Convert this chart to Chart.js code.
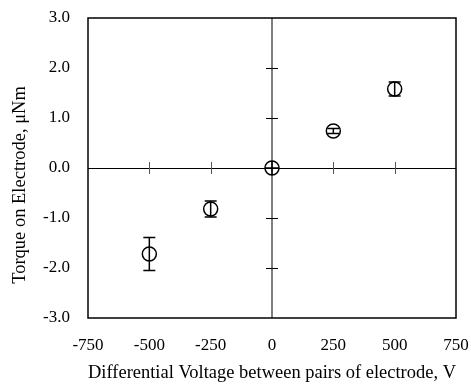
<!DOCTYPE html>
<html>
<head>
<meta charset="utf-8">
<script src="https://cdn.jsdelivr.net/npm/chart.js@4"></script>
<style>
    html, body { margin: 0; padding: 0; background: #fff; }
    #wrap { width: 471px; height: 390px; }
</style>
</head>
<body>
<div id="wrap"><canvas id="torqueChart"></canvas></div>
<script>
// Data
const voltages = [-500, -250, 0, 250, 500];
const torques = [-1.72, -0.82, 0.0, 0.74, 1.58];
const torqueErrors = [0.33, 0.16, 0.0, 0.05, 0.14];
const xTicks = [-750, -500, -250, 0, 250, 500, 750];
const yTicks = [-3, -2, -1, 0, 1, 2, 3];
const yTitle = 'Torque on Electrode, \u03BCNm';

const FONT = 'Liberation Serif, Times New Roman, serif';

// frame + zero axes with small crossing ticks
const zeroAxesPlugin = {
    id: 'zeroAxes',
    beforeDatasetsDraw(chart) {
        const ctx = chart.ctx;
        const area = chart.chartArea;
        const x = chart.scales.x;
        const y = chart.scales.y;
        const x0 = x.getPixelForValue(0);
        const y0 = y.getPixelForValue(0);
        ctx.save();

        // vertical zero line (grey)
        ctx.strokeStyle = '#808080';
        ctx.lineWidth = 2;
        ctx.beginPath();
        ctx.moveTo(x0, area.top);
        ctx.lineTo(x0, area.bottom);
        ctx.stroke();

        // ticks on the vertical line
        ctx.strokeStyle = '#000';
        ctx.lineWidth = 1;
        yTicks.forEach(v => {
            if (v === 0 || Math.abs(v) === 3) return;
            const py = Math.round(y.getPixelForValue(v)) + 0.5;
            ctx.beginPath();
            ctx.moveTo(x0 - 6, py);
            ctx.lineTo(x0 + 6, py);
            ctx.stroke();
        });

        // horizontal zero line (black)
        ctx.strokeStyle = '#000';
        ctx.lineWidth = 1;
        ctx.beginPath();
        ctx.moveTo(area.left, Math.round(y0) + 0.5);
        ctx.lineTo(area.right, Math.round(y0) + 0.5);
        ctx.stroke();

        // ticks on the horizontal line
        ctx.strokeStyle = '#555';
        xTicks.forEach(v => {
            if (v === 0 || Math.abs(v) === 750) return;
            const px = Math.round(x.getPixelForValue(v)) + 0.5;
            ctx.beginPath();
            ctx.moveTo(px, y0 - 6);
            ctx.lineTo(px, y0 + 6);
            ctx.stroke();
        });

        // frame
        ctx.strokeStyle = '#000';
        ctx.lineWidth = 1.5;
        ctx.strokeRect(area.left, area.top, area.right - area.left, area.bottom - area.top);
        ctx.restore();
    }
};

// vertical error bars with caps
const errorBarPlugin = {
    id: 'errorBars',
    afterDatasetsDraw(chart) {
        const ctx = chart.ctx;
        const x = chart.scales.x;
        const y = chart.scales.y;
        ctx.save();
        ctx.strokeStyle = '#000';
        ctx.lineWidth = 1.5;
        voltages.forEach((v, i) => {
            const err = torqueErrors[i];
            if (!err) return;
            const px = x.getPixelForValue(v);
            const top = y.getPixelForValue(torques[i] + err);
            const bot = y.getPixelForValue(torques[i] - err);
            ctx.beginPath();
            ctx.moveTo(px, top);
            ctx.lineTo(px, bot);
            ctx.moveTo(px - 6, top);
            ctx.lineTo(px + 6, top);
            ctx.moveTo(px - 6, bot);
            ctx.lineTo(px + 6, bot);
            ctx.stroke();
        });
        // cross inside the origin marker
        const ox = x.getPixelForValue(0);
        const oy = y.getPixelForValue(0);
        ctx.beginPath();
        ctx.moveTo(ox - 7, oy);
        ctx.lineTo(ox + 7, oy);
        ctx.moveTo(ox, oy - 7);
        ctx.lineTo(ox, oy + 7);
        ctx.stroke();
        ctx.restore();
    }
};

// y axis title, sitting a little below the middle of the axis as in the original
const yTitlePlugin = {
    id: 'yTitle',
    afterDraw(chart) {
        const ctx = chart.ctx;
        const area = chart.chartArea;
        ctx.save();
        ctx.translate(20, (area.top + area.bottom) / 2 + 17);
        ctx.rotate(-Math.PI / 2);
        ctx.font = '18.5px ' + FONT;
        ctx.fillStyle = '#000';
        ctx.textAlign = 'center';
        ctx.textBaseline = 'middle';
        ctx.fillText(yTitle, 0, 0);
        ctx.restore();
    }
};

const ctx = document.getElementById('torqueChart').getContext('2d');
const torqueChart = new Chart(ctx, {
    type: 'scatter',
    data: {
        datasets: [{
            label: 'Torque',
            data: voltages.map((v, i) => ({ x: v, y: torques[i] })),
            pointStyle: 'circle',
            pointRadius: 7,
            pointBorderWidth: 1.5,
            pointBorderColor: '#000',
            pointBackgroundColor: 'rgba(0,0,0,0)',
            showLine: false
        }]
    },
    options: {
        responsive: true,
        maintainAspectRatio: false,
        animation: false,
        layout: {
            padding: { top: 18, right: 15, left: 0, bottom: 0 }
        },
        scales: {
            x: {
                type: 'linear',
                min: -750,
                max: 750,
                afterBuildTicks: scale => {
                    scale.ticks = xTicks.map(v => ({ value: v }));
                },
                afterFit: scale => {
                    scale.height = 72;
                    scale.paddingLeft = 0;
                    scale.paddingRight = 0;
                },
                grid: { display: false, drawTicks: false },
                border: { display: false },
                ticks: {
                    padding: 17,
                    color: '#000',
                    font: { family: FONT, size: 17 },
                    maxRotation: 0,
                    callback: v => String(v)
                },
                title: {
                    display: true,
                    text: 'Differential Voltage between pairs of electrode, V',
                    color: '#000',
                    font: { family: FONT, size: 19 },
                    padding: { top: 0, bottom: 6 }
                }
            },
            y: {
                type: 'linear',
                min: -3,
                max: 3,
                afterBuildTicks: scale => {
                    scale.ticks = yTicks.map(v => ({ value: v }));
                },
                afterFit: scale => {
                    scale.width = 88;
                    scale.paddingTop = 0;
                    scale.paddingBottom = 0;
                },
                grid: { display: false, drawTicks: false },
                border: { display: false },
                ticks: {
                    padding: 18,
                    color: '#000',
                    font: { family: FONT, size: 17 },
                    callback: v => v.toFixed(1)
                },
                title: { display: false }
            }
        },
        plugins: {
            legend: { display: false },
            tooltip: { enabled: false }
        }
    },
    plugins: [zeroAxesPlugin, errorBarPlugin, yTitlePlugin]
});
</script>
</body>
</html>
